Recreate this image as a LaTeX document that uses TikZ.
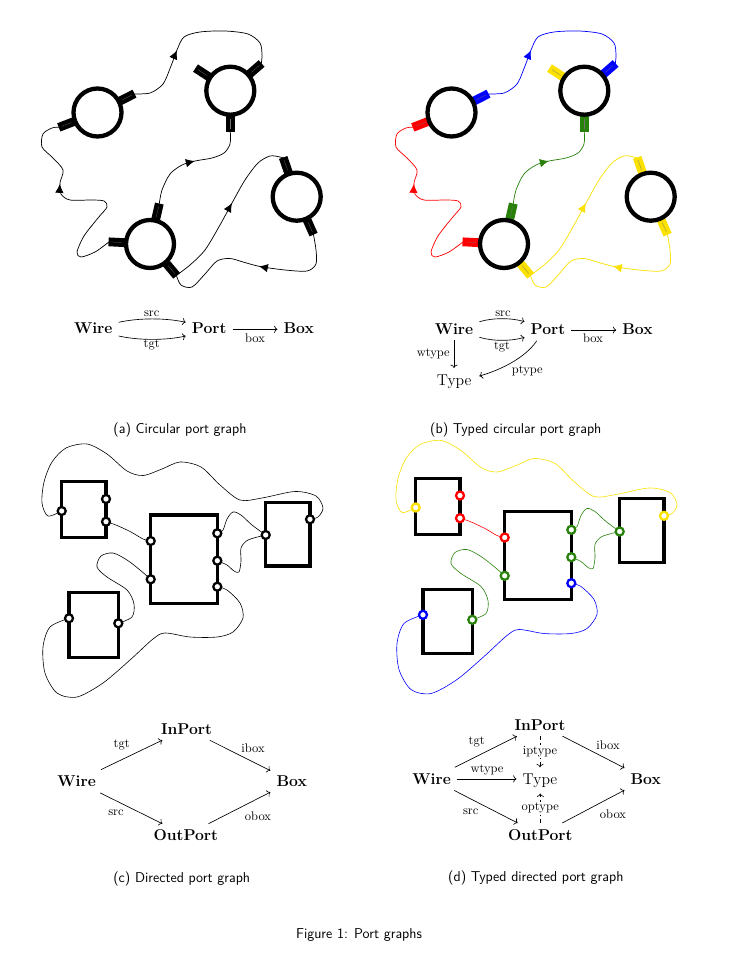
\documentclass[tikz,border=0pt]{standalone}
\usepackage{fontspec}
\usetikzlibrary{arrows.meta,decorations.markings,calc}
\definecolor{pgyellow}{RGB}{250,225,0}
\definecolor{pggreen}{RGB}{40,130,10}
\definecolor{pgblue}{RGB}{0,0,255}
\definecolor{pgred}{RGB}{255,0,0}
\tikzset{
  bignode/.style={font=\fontsize{13.2}{15}\selectfont\bfseries, inner sep=5pt, text height=9.1pt, text depth=0pt},
  bigrnode/.style={font=\fontsize{13.2}{15}\selectfont, inner sep=5pt, text height=9.1pt, text depth=0pt},
  lbl/.style={font=\fontsize{10.5}{12}\selectfont, inner sep=1pt},
  captxt/.style={font=\fontsize{12}{14}\selectfont\sffamily, inner sep=0pt},
  eq/.style={line width=0.55pt, -{Computer Modern Rightarrow}},
  circ/.style={line width=3.6pt},
  wire/.style={line width=0.6pt},
  wiretwo/.style={line width=0.5pt},
  boxr/.style={line width=2.6pt},
  pcirc/.style={line width=1.9pt, fill=white},
  warrow/.style={postaction={decorate,decoration={markings,mark=at position #1 with {\arrow{Latex[length=7.5pt,width=7pt]}}}}}
}
\newcommand{\mkport}[4]{%
  \draw[line width=7.4pt, #3] ($(#1)+({0-(#2)}:24)$) -- ($(#1)+({0-(#2)}:41.5)$);
  \draw[line width=0.2pt, black!55] ($(#1)+({0-(#2)}:28)$) -- ($(#1)+({0-(#2)}:38.5)$);
  \coordinate (#4) at ($(#1)+({0-(#2)}:41)$);
}
% #1 prefix, #2 blue, #3 green, #4 red, #5 yellow
\newcommand{\circfig}[5]{%
  \coordinate (#1cA) at (97.5,112.5);
  \coordinate (#1cB) at (230.3,90.7);
  \coordinate (#1cC) at (150,244);
  \coordinate (#1cD) at (296.7,196.7);
  \mkport{#1cA}{27}{#2}{#1pa1}
  \mkport{#1cA}{201}{#4}{#1pa2}
  \mkport{#1cB}{147}{#5}{#1pb1}
  \mkport{#1cB}{41}{#2}{#1pb2}
  \mkport{#1cB}{-90}{#3}{#1pb3}
  \mkport{#1cC}{77}{#3}{#1pc1}
  \mkport{#1cC}{177}{#4}{#1pc2}
  \mkport{#1cC}{-50}{#5}{#1pc3}
  \mkport{#1cD}{109}{#5}{#1pd1}
  \mkport{#1cD}{-66}{#5}{#1pd2}
  \foreach \cc in {A,B,C,D} {\draw[circ] (#1c\cc) circle[radius=24];}
  \draw[wire, #2, warrow=0.37] plot[smooth] coordinates {(#1pa1) (150,93) (163,84) (171,66) (177,50) (184,37) (200,32) (225,31) (248,34) (260,43) (262,55) (#1pb2)};
  \draw[wire, #3, warrow=0.53] plot[smooth] coordinates {(#1pc1) (162,190) (170,174) (182,165) (195,161) (212,158) (224,153) (230,144) (#1pb3)};
  \draw[wire, #4, warrow=0.67] plot[smooth] coordinates {(#1pc2) (95,252) (81,257) (77,252) (84,236) (98,218) (107,207) (104,201) (92,200) (70,200) (61,194) (60,183) (63,170) (53,158) (42,147) (43,134) (52,128) (#1pa2)};
  \draw[wire, #5, warrow=0.55] plot[smooth] coordinates {(#1pc3) (190,265) (205,250) (220,225) (232,203) (245,180) (258,163) (270,156) (280,157) (#1pd1)};
  \draw[wire, #5, warrow=0.47] plot[smooth] coordinates {(#1pd2) (316,250) (316,264) (307,271) (285,270) (260,266.5) (243,262) (230,258.5) (217,261) (205,274) (192,287) (181,285) (#1pc3)};
}
% #1 prefix, #2 yellow, #3 red, #4 green, #5 blue
\newcommand{\dirfig}[5]{%
  \draw[boxr] (61.7,481.7) rectangle (106,537.7);
  \draw[boxr] (150.7,515) rectangle (217.3,603.3);
  \draw[boxr] (265.7,502.3) rectangle (310,566);
  \draw[boxr] (69,592.7) rectangle (118.3,657.3);
  \coordinate (#1p11) at (61.7,511);
  \coordinate (#1p12) at (106,499);
  \coordinate (#1p13) at (106,521.7);
  \coordinate (#1p21) at (150.7,541);
  \coordinate (#1p22) at (150.7,579.3);
  \coordinate (#1p23) at (217.3,533.3);
  \coordinate (#1p24) at (217.3,560.7);
  \coordinate (#1p25) at (217.3,586.7);
  \coordinate (#1p31) at (265.7,535);
  \coordinate (#1p32) at (310,519.3);
  \coordinate (#1p41) at (69,618.3);
  \coordinate (#1p42) at (118.3,623.3);
  \draw[wiretwo, #2] plot[smooth] coordinates {(#1p11) (48,516) (42,503) (44,482) (52,462) (66,448) (87,444) (107,454) (127,471) (143,475.5) (162,469) (180,462) (201,467) (220,485) (240,500) (262,498) (295,491.5) (316,496) (323,508) (318,517) (#1p32)};
  \draw[wiretwo, #3] plot[smooth] coordinates {(#1p13) (116,525) (131,532) (143,539) (#1p21)};
  \draw[wiretwo, #4] plot[smooth] coordinates {(#1p23) (223,530) (227,519) (233,512) (241,515) (252,525) (#1p31)};
  \draw[wiretwo, #4] plot[smooth] coordinates {(#1p24) (227,565) (234,571) (239,572) (241,561) (241,548) (248,540) (#1p31)};
  \draw[wiretwo, #4] plot[smooth] coordinates {(#1p22) (140,570) (127,560) (113,553) (101,556) (97,567) (107,577) (127,590) (134,604) (132,617) (#1p42)};
  \draw[wiretwo, #5] plot[smooth] coordinates {(#1p25) (227,590) (240,603) (243,618) (233,632) (217,637) (190,637) (165,633) (153,639) (130,660) (103,683) (77,697) (57,693) (45,673) (43,647) (50,627) (#1p41)};
  \draw[pcirc, draw=#2] (#1p11) circle[radius=4];
  \draw[pcirc, draw=#3] (#1p12) circle[radius=4];
  \draw[pcirc, draw=#3] (#1p13) circle[radius=4];
  \draw[pcirc, draw=#3] (#1p21) circle[radius=4];
  \draw[pcirc, draw=#4] (#1p22) circle[radius=4];
  \draw[pcirc, draw=#4] (#1p23) circle[radius=4];
  \draw[pcirc, draw=#4] (#1p24) circle[radius=4];
  \draw[pcirc, draw=#5] (#1p25) circle[radius=4];
  \draw[pcirc, draw=#4] (#1p31) circle[radius=4];
  \draw[pcirc, draw=#2] (#1p32) circle[radius=4];
  \draw[pcirc, draw=#5] (#1p41) circle[radius=4];
  \draw[pcirc, draw=#4] (#1p42) circle[radius=4];
}
\begin{document}
\begin{tikzpicture}[x=0.84pt,y=-0.84pt]
\fill[white] (0,0) rectangle (729,961);
\useasboundingbox (0,0) rectangle (729,961);
% (a) and (b) pictures
\circfig{a}{black}{black}{black}{black}
\begin{scope}[shift={(354,0)}]
\circfig{b}{pgblue}{pggreen}{pgred}{pgyellow}
\end{scope}
% (c) and (d) pictures
\dirfig{c}{black}{black}{black}{black}
\begin{scope}[shift={(354,-3.5)}]
\dirfig{d}{pgyellow}{pgred}{pggreen}{pgblue}
\end{scope}
% (a) schema
\node[bignode, anchor=base] (aW) at (93.3,333.3) {Wire};
\node[bignode, anchor=base] (aP) at (209.2,333.3) {Port};
\node[bignode, anchor=base] (aB) at (298.8,333.3) {Box};
\draw[eq] ($(aW.base east)+(0,-11)$) .. controls +(20,-4.5) and +(-20,-4.5) .. ($(aP.base west)+(0,-11)$);
\draw[eq] ($(aW.base east)+(0,2.7)$) .. controls +(20,4.5) and +(-20,4.5) .. ($(aP.base west)+(0,2.7)$);
\draw[eq] ($(aP.base east)+(0,-4)$) -- ($(aB.base west)+(0,-4)$);
\node[lbl] (asrc) at (151.7,313.5) {src};
\node[lbl] (atgt) at (151.7,345) {tgt};
\node[lbl] (abox) at (255,338) {box};
% (b) schema
\node[bignode, anchor=base] (bW) at (454,334.3) {Wire};
\node[bignode, anchor=base] (bP) at (548,334.3) {Port};
\node[bignode, anchor=base] (bB) at (637.5,334.3) {Box};
\node[bigrnode, anchor=base] (bT) at (454.2,385) {Type};
\draw[eq] ($(bW.base east)+(0,-12.6)$) .. controls +(13,-4) and +(-13,-4) .. ($(bP.base west)+(0,-12.6)$);
\draw[eq] ($(bW.base east)+(0,3)$) .. controls +(13,4) and +(-13,4) .. ($(bP.base west)+(0,3)$);
\draw[eq] ($(bP.base east)+(0,-4.3)$) -- ($(bB.base west)+(0,-4.3)$);
\draw[eq] (bW.south) -- (bW.south |- bT.north);
\draw[eq] ($(bP.south)+(-11.3,0.4)$) .. controls +(-11.7,17.3) and +(20.7,-6) .. ($(bT.east)+(1.6,-3.5)$);
\node[lbl] (bsrc) at (503,313.5) {src};
\node[lbl] (btgt) at (502,347) {tgt};
\node[lbl] (bbox) at (593,338) {box};
\node[lbl] (bwtype) at (433.3,354) {wtype};
\node[lbl] (bptype) at (527.3,370.7) {ptype};
% (c) schema
\node[bignode, anchor=base] (cI) at (186.5,734) {InPort};
\node[bignode, anchor=base] (cW) at (76.7,786.7) {Wire};
\node[bignode, anchor=base] (cB) at (291.7,786.7) {Box};
\node[bignode, anchor=base] (cO) at (185.8,840.7) {OutPort};
\draw[eq] (cW) -- (cI);
\draw[eq] (cI) -- (cB);
\draw[eq] (cW) -- (cO);
\draw[eq] (cO) -- (cB);
\node[lbl] (ctgt) at (121.7,745) {tgt};
\node[lbl] (cibox) at (253,748) {ibox};
\node[lbl] (csrc) at (116,813) {src};
\node[lbl] (cobox) at (258,816.7) {obox};
% (d) schema
\node[bignode, anchor=base] (dI) at (540,730) {InPort};
\node[bignode, anchor=base] (dW) at (431.7,784.3) {Wire};
\node[bigrnode, anchor=base] (dT) at (540,784.3) {Type};
\node[bignode, anchor=base] (dB) at (645.8,784.3) {Box};
\node[bignode, anchor=base] (dO) at (540.3,840) {OutPort};
\draw[eq] (dW) -- (dI);
\draw[eq] (dW) -- (dT);
\draw[eq] (dW) -- (dO);
\draw[eq] (dI) -- (dB);
\draw[eq] (dO) -- (dB);
\draw[eq, dash pattern=on 3pt off 2.5pt] (dI.south) -- (dI.south |- dT.north) node[lbl, midway, fill=white] (diptype) {iptype};
\draw[eq, dash pattern=on 3pt off 2.5pt] (dO.north) -- ($(dO.north |- dT.south)+(0,3)$) node[lbl, midway, fill=white] (doptype) {optype};
\node[lbl] (dtgt) at (476.7,742) {tgt};
\node[lbl] (dwtype) at (487,770) {wtype};
\node[lbl] (dibox) at (608,745) {ibox};
\node[lbl] (dsrc) at (470.7,812) {src};
\node[lbl] (dobox) at (613,814) {obox};
% captions
\node[captxt] (capa) at (180,430) {(a) Circular port graph};
\node[captxt] (capb) at (515.8,430) {(b) Typed circular port graph};
\node[captxt] (capc) at (181.7,879.3) {(c) Directed port graph};
\node[captxt] (capd) at (535.8,878.3) {(d) Typed directed port graph};
\node[captxt] (capf) at (359,935) {Figure 1: Port graphs};
\end{tikzpicture}
\end{document}
